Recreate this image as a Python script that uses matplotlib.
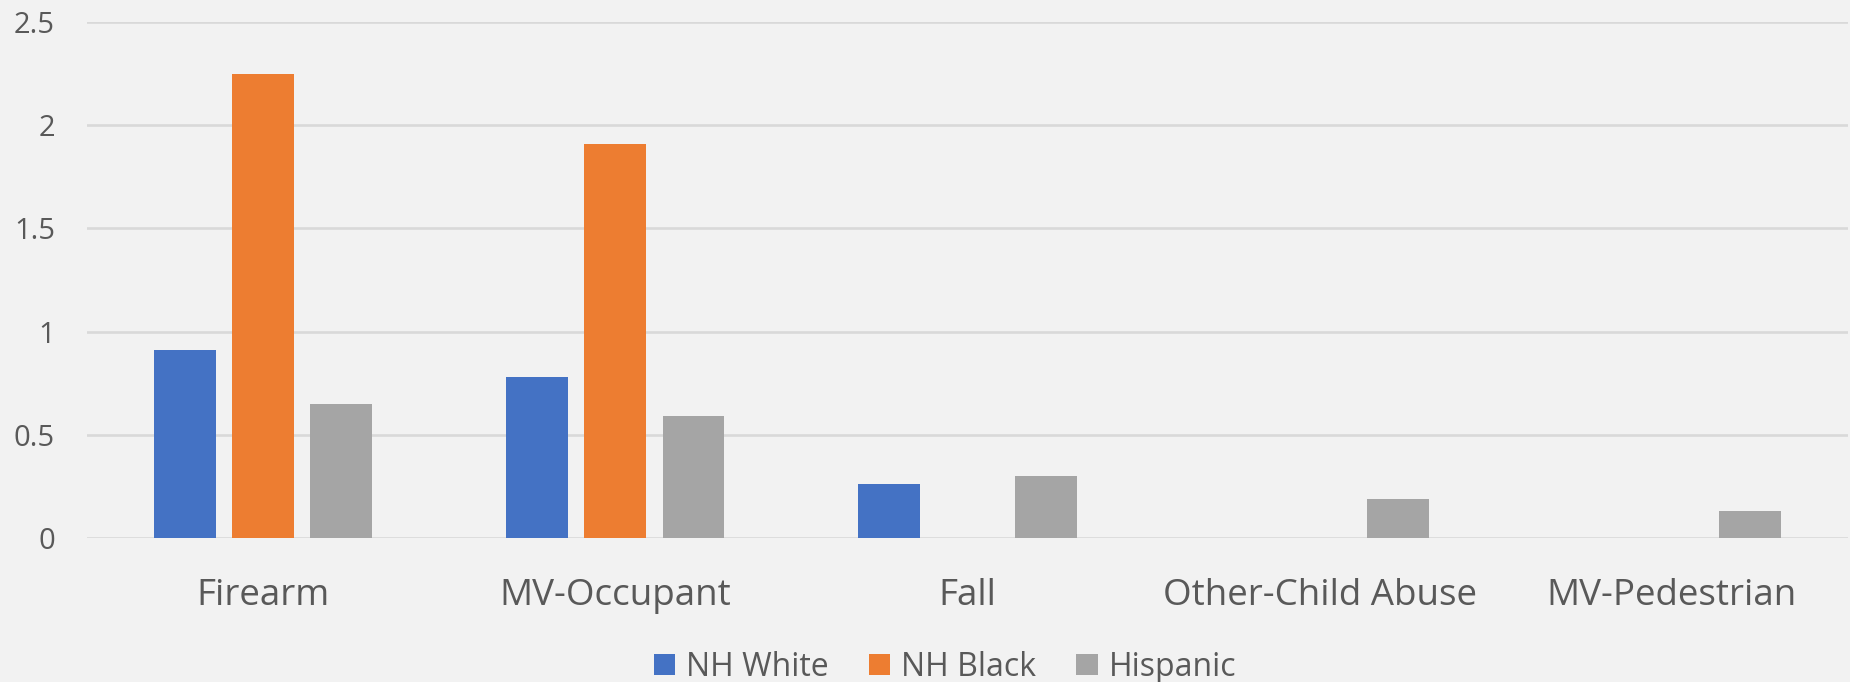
import matplotlib.pyplot as plt
import numpy as np

########## DATA ##########
categories = ["Firearm", "MV-Occupant", "Fall", "Other-Child Abuse", "MV-Pedestrian"]
series_names = ["NH White", "NH Black", "Hispanic"]
nh_white = [0.91, 0.78, 0.26, np.nan, np.nan]
nh_black = [2.25, 1.91, np.nan, np.nan, np.nan]
hispanic = [0.65, 0.59, 0.30, 0.19, 0.13]
colors = ["#4472C4", "#ED7D31", "#A5A5A5"]
y_ticks = [0, 0.5, 1, 1.5, 2, 2.5]

########## STYLE ##########
plt.rcParams['font.family'] = ['Open Sans', 'DejaVu Sans']
text_color = "#595959"
bg = "#F2F2F2"

fig = plt.figure(figsize=(18.5, 6.82), dpi=100, facecolor=bg)
ax = fig.add_axes([87 / 1850, 1 - 538 / 682, (1848 - 87) / 1850, (538 - 22) / 682])
ax.set_facecolor(bg)

x = np.arange(len(categories))
width = 0.175
pitch = 0.222
for i, (vals, name) in enumerate(zip([nh_white, nh_black, hispanic], series_names)):
    ax.bar(x + (i - 1) * pitch, vals, width, color=colors[i], label=name, zorder=3)

ax.set_xlim(-0.5, len(categories) - 0.5)
ax.set_ylim(0, 2.5)
ax.set_yticks(y_ticks)
ax.set_yticklabels([("%g" % t) for t in y_ticks])
ax.set_xticks(x)
ax.set_xticklabels(categories)

ax.grid(axis="y", color="#D9D9D9", linewidth=1.9, zorder=0)
ax.tick_params(axis="y", length=0, pad=23, labelsize=21, labelcolor=text_color)
ax.tick_params(axis="x", length=0, pad=29, labelsize=26.5, labelcolor=text_color)
for s in ax.spines.values():
    s.set_visible(False)

fig.legend(loc="center", bbox_to_anchor=(945 / 1850, 1 - 667 / 682), ncol=3,
           frameon=False, fontsize=23, labelcolor=text_color,
           handlelength=0.66, handleheight=0.66, handletextpad=0.35,
           columnspacing=1.26, borderpad=0)

fig.savefig("out.png", dpi=100, facecolor=bg)
